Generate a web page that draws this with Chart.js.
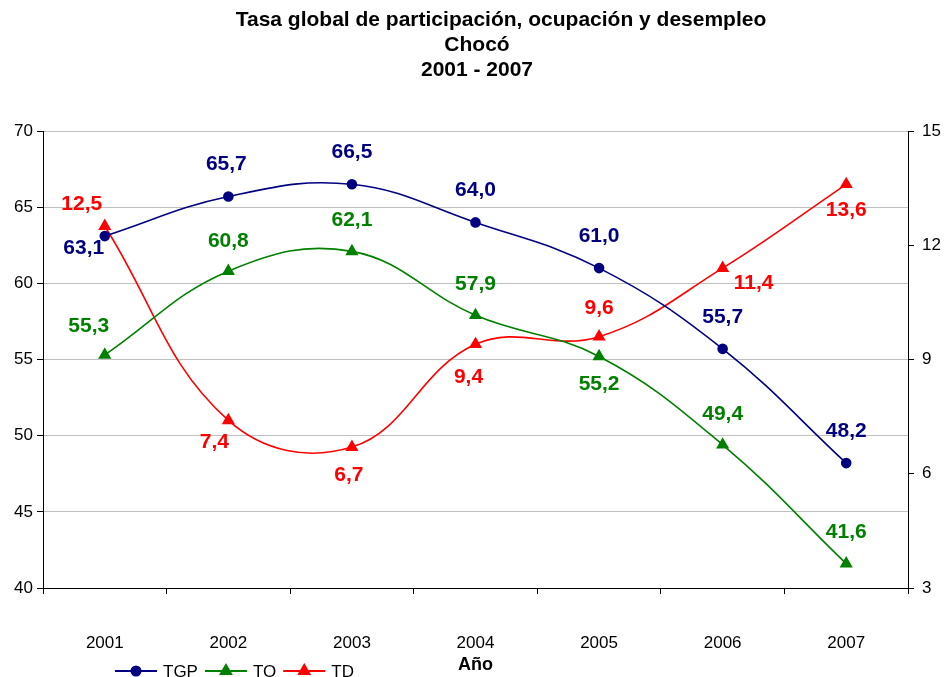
<!DOCTYPE html>
<html>
<head>
<meta charset="utf-8">
<script src="https://cdn.jsdelivr.net/npm/chart.js@4/dist/chart.umd.min.js"></script>
<style>
  html, body { margin: 0; padding: 0; background: #fff; }
  #wrap { width: 945px; height: 677px; position: relative; }
</style>
</head>
<body>
<div id="wrap"><canvas id="chart" width="945" height="677"></canvas></div>
<script>
/* ========= DATA ========= */
const years = ['2001', '2002', '2003', '2004', '2005', '2006', '2007'];
const tgp = [63.1, 65.7, 66.5, 64.0, 61.0, 55.7, 48.2];
const to  = [55.3, 60.8, 62.1, 57.9, 55.2, 49.4, 41.6];
const td  = [12.5, 7.4, 6.7, 9.4, 9.6, 11.4, 13.6];
const titleLines = ['Tasa global de participación, ocupación y desempleo', 'Chocó', '2001 - 2007'];

/* ========= STYLE ========= */
const NAVY = '#000080', GREEN = '#008000', RED = '#ff0000';
const FONT = 'Arial, "Liberation Sans", sans-serif';

// label offsets (px) relative to each point
const labelOffsets = [
  [[-21, 12], [-2, -32], [0, -32], [0, -32], [0, -32], [0, -32], [0, -32]],
  [[-16, -29], [0, -30], [0, -31], [0, -31], [0, 28], [0, -31], [0, -31]],
  [[-23, -22], [-14, 22], [-3, 28], [-7, 33], [0, -28], [31, 15], [0, 26]]
];

const fmt = v => v.toFixed(1).replace('.', ',');

/* ========= PLUGINS ========= */
const titlePlugin = {
  id: 'titleLines',
  afterDraw(chart) {
    const ctx = chart.ctx;
    ctx.save();
    ctx.font = 'bold 21px ' + FONT;
    ctx.fillStyle = '#000';
    ctx.textAlign = 'center';
    ctx.textBaseline = 'middle';
    const xs = [501, 477, 477];
    titleLines.forEach((t, i) => ctx.fillText(t, xs[i], 20 + i * 25));
    ctx.restore();
  }
};

const valueLabels = {
  id: 'valueLabels',
  afterDatasetsDraw(chart) {
    const ctx = chart.ctx;
    ctx.save();
    ctx.font = 'bold 21px ' + FONT;
    ctx.textAlign = 'center';
    ctx.textBaseline = 'middle';
    chart.data.datasets.forEach((ds, di) => {
      const meta = chart.getDatasetMeta(di);
      ctx.fillStyle = ds.borderColor;
      meta.data.forEach((pt, i) => {
        const off = labelOffsets[di][i];
        ctx.fillText(fmt(ds.data[i]), pt.x + off[0], pt.y + off[1]);
      });
    });
    ctx.restore();
  }
};

const bottomLegend = {
  id: 'bottomLegend',
  afterDraw(chart) {
    const ctx = chart.ctx;
    ctx.save();
    ctx.font = '17px ' + FONT;
    ctx.textBaseline = 'middle';
    let x = 115;
    const y = 671;
    chart.data.datasets.forEach(ds => {
      ctx.strokeStyle = ds.borderColor;
      ctx.fillStyle = ds.borderColor;
      ctx.lineWidth = 2;
      ctx.beginPath();
      ctx.moveTo(x, y);
      ctx.lineTo(x + 42, y);
      ctx.stroke();
      Chart.helpers.drawPoint(ctx, { pointStyle: ds.pointStyle, radius: ds.pointRadius, borderWidth: 1 }, x + 21, y);
      ctx.fillStyle = '#000';
      ctx.fillText(ds.label, x + 48, y + 1);
      x += 48 + ctx.measureText(ds.label).width + 7;
    });
    ctx.restore();
  }
};

/* ========= CHART ========= */
const mkSet = (label, data, color, style, radius, axis) => ({
  label, data,
  borderColor: color,
  backgroundColor: color,
  pointBackgroundColor: color,
  pointBorderColor: color,
  pointStyle: style,
  pointRadius: radius,
  borderWidth: 1.6,
  tension: 0.4,
  yAxisID: axis
});

new Chart(document.getElementById('chart'), {
  type: 'line',
  data: {
    labels: years,
    datasets: [
      mkSet('TGP', tgp, NAVY, 'circle', 4.5, 'y'),
      mkSet('TO', to, GREEN, 'triangle', 6, 'y'),
      mkSet('TD', td, RED, 'triangle', 6, 'y2')
    ]
  },
  options: {
    responsive: false,
    animation: false,
    layout: { padding: { top: 131, left: 0, right: 0, bottom: 0 } },
    plugins: { legend: { display: false }, title: { display: false }, tooltip: { enabled: false } },
    scales: {
      x: {
        offset: true,
        afterFit: s => { s.height = 89; },
        grid: { offset: true, drawOnChartArea: false, tickLength: 6, tickColor: '#000' },
        border: { color: '#000', width: 1 },
        ticks: { color: '#000', font: { family: FONT, size: 17 }, padding: 39 },
        title: { display: true, text: 'Año', color: '#000', font: { family: FONT, size: 18, weight: 'bold' }, padding: { top: 0, bottom: 1 } }
      },
      y: {
        position: 'left',
        min: 40, max: 70,
        afterFit: s => { s.width = 43; },
        grid: { color: '#c0c0c0', tickColor: '#000', tickLength: 6 },
        border: { color: '#000', width: 1 },
        ticks: { stepSize: 5, color: '#000', font: { family: FONT, size: 17 }, padding: 4 }
      },
      y2: {
        position: 'right',
        min: 3, max: 15,
        afterFit: s => { s.width = 37; },
        grid: { drawOnChartArea: false, tickColor: '#000', tickLength: 6 },
        border: { color: '#000', width: 1 },
        ticks: { stepSize: 3, color: '#000', font: { family: FONT, size: 17 }, padding: 8 }
      }
    }
  },
  plugins: [titlePlugin, valueLabels, bottomLegend]
});
</script>
</body>
</html>
